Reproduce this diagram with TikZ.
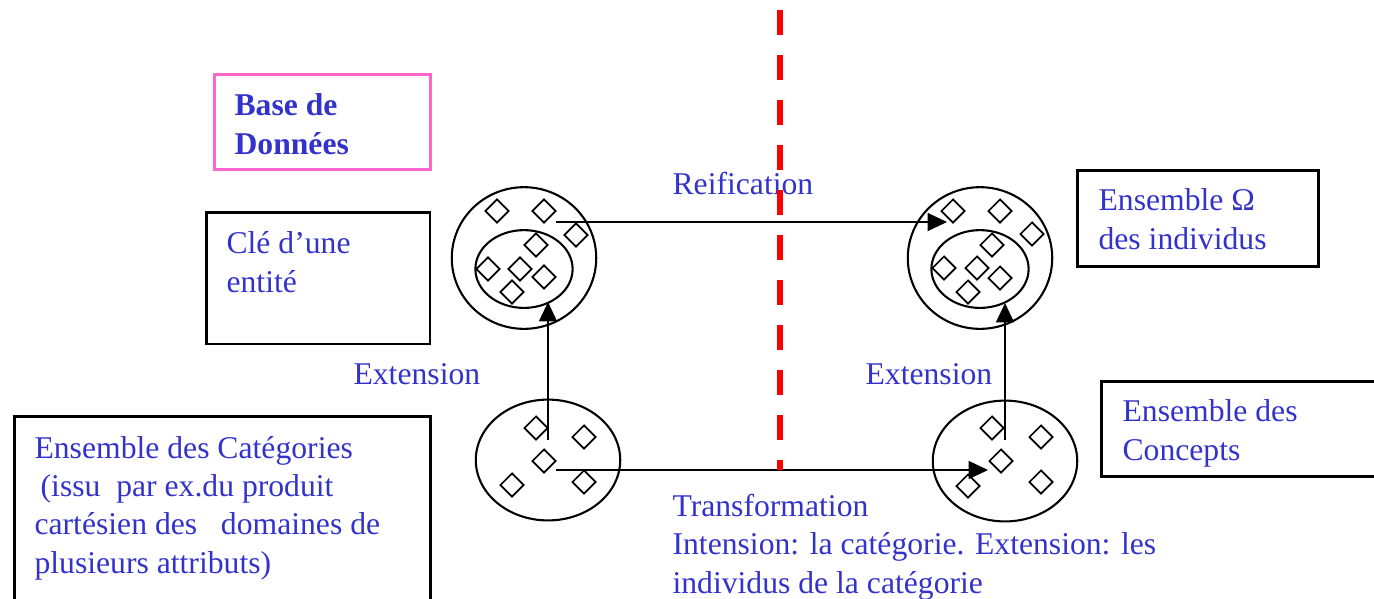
\documentclass[tikz,border=0pt]{standalone}
\usepackage{fontspec}
\setmainfont{Liberation Serif}
\usepackage{xcolor}
\usetikzlibrary{shapes.geometric,positioning,arrows.meta}
\definecolor{txtblue}{RGB}{51,51,204}
\definecolor{boxpink}{RGB}{255,102,204}

\begin{document}
\begin{tikzpicture}[
  x=0.36pt, y=-0.36pt,
  every node/.style={font=\fontsize{11.4}{13.8}\selectfont},
  txt/.style={text=txtblue, align=left, inner sep=0pt, anchor=base west},
  box/.style={draw, line width=0.9pt, rectangle, inner sep=0pt, anchor=north west},
  outerset/.style={draw, line width=0.75pt, ellipse, inner sep=0pt,
                   minimum width=52pt, minimum height=51pt},
  innerset/.style={draw, line width=0.75pt, ellipse, inner sep=0pt,
                   minimum width=35pt, minimum height=28pt},
  lowset/.style={draw, line width=0.75pt, ellipse, inner sep=0pt,
                 minimum width=52pt, minimum height=43.5pt},
  elt/.style={draw, line width=0.6pt, diamond, inner sep=0pt, minimum size=8.6pt},
  link/.style={-{Triangle[length=7pt,width=6.5pt]}, line width=0.6pt}
]
  \useasboundingbox (0,0) rectangle (1374,598);

  % frames with their captions (base = last line)
  \node[box, draw=boxpink, minimum width=77.8pt, minimum height=34.2pt] (bdd) at (213,73) {};
  \node[txt, font=\fontsize{11.4}{13.8}\selectfont\bfseries] (bddtxt) at (234,154) {Base de\\Données};

  \node[box, minimum width=80.6pt, minimum height=47.5pt] (cle) at (205,211) {};
  \node[txt] (cletxt) at (226,292) {Clé d’une\\entité};

  \node[box, minimum width=86.8pt, minimum height=34.6pt] (omega) at (1076,169) {};
  \node[txt] (omegatxt) at (1098,249) {Ensemble Ω\\des individus};

  \node[box, minimum width=110pt, minimum height=34.2pt] (concepts) at (1100,380) {};
  \node[txt] (conctxt) at (1122,460) {Ensemble des\\Concepts};

  \node[box, minimum width=149.8pt, minimum height=80pt] (categ) at (13,415) {};
  \node[txt] (categtxt) at (34,573) {Ensemble des Catégories\\
    \hspace{2.2pt}(issu\ \ par ex.du produit\\
    cartésien des\ \ \ domaines de\\
    plusieurs attributs)};

  % the four sets
  \node[outerset] (ldb) at (524,258) {};
  \node[innerset] (lkey) at (524,269) {};
  \node[outerset] (rind) at (980,258) {};
  \node[innerset] (rsub) at (980,269) {};
  \node[lowset] (lcat) at (548,460) {};
  \node[lowset] (rcon) at (1005,461) {};

  % their elements
  \foreach \p [count=\i] in {(497,211),(544,211),(576,235),(536,245),
                             (488,269),(520,269),(544,277),(512,292)}
    \node[elt] (a\i) at \p {};
  \foreach \p [count=\i] in {(953,211),(1000,211),(1032,234),(992,245),
                             (944,268),(977,268),(1000,278),(968,292)}
    \node[elt] (b\i) at \p {};
  \foreach \p [count=\i] in {(536,428),(584,437),(544,461),(512,485),(584,482)}
    \node[elt] (c\i) at \p {};
  \foreach \p [count=\i] in {(992,428),(1041,437),(1001,461),(968,486),(1041,482)}
    \node[elt] (d\i) at \p {};

  % arrow ends inside the sets
  \coordinate (reifA) at (556,222);
  \coordinate (reifB) at (947,222);
  \coordinate (trA)   at (556,470);
  \coordinate (trB)   at (988,470);
  \coordinate (exlA)  at (548,440);
  \coordinate (exlB)  at (548,302);
  \coordinate (exrA)  at (1005,440);
  \coordinate (exrB)  at (1005,303);

  \draw[link] (reifA) -- (reifB);
  \draw[link] (trA) -- (trB);
  \draw[link] (exlA) -- (exlB);
  \draw[link] (exrA) -- (exrB);

  % arrow captions
  \node[txt] (reiftxt) at (672,194) {Reification};
  \node[txt] (exltxt) at (353,384) {Extension};
  \node[txt] (exrtxt) at (865,384) {Extension};
  \node[txt] (trtxt) at (672,593) {Transformation\\
    Intension: la catégorie. Extension: les\\
    individus de la catégorie};

  % separation line, on top
  \draw[red, line width=2.2pt, dash pattern=on 9pt off 7.2pt] (780,10) -- (780,470);
\end{tikzpicture}
\end{document}
